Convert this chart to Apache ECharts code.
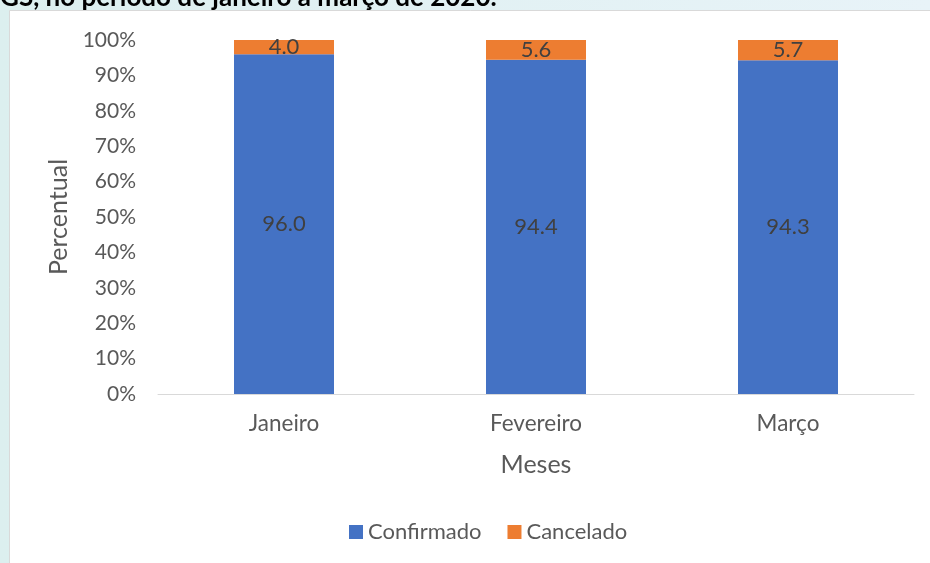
<!DOCTYPE html>
<html>
<head>
<meta charset="utf-8">
<script src="https://cdn.jsdelivr.net/npm/echarts@6/dist/echarts.min.js"></script>
<style>
html,body{margin:0;padding:0;}
#c{width:930px;height:563px;}
</style>
</head>
<body>
<div id="c"></div>
<script>
const categories = ['Janeiro', 'Fevereiro', 'Março'];
const confirmado = [96.0, 94.4, 94.3];
const cancelado = [4.0, 5.6, 5.7];
const yTicks = [0, 10, 20, 30, 40, 50, 60, 70, 80, 90, 100];

const FONT = 'Lato';
const chart = echarts.init(document.getElementById('c'));
chart.setOption({
  backgroundColor: {
    type: 'linear', x: 0, y: 0, x2: 1, y2: 0,
    colorStops: [{offset: 0, color: '#dcefef'}, {offset: 1, color: '#e8f3f8'}]
  },
  textStyle: {fontFamily: FONT},
  graphic: [
    {type: 'rect', z: -10, shape: {x: 9.5, y: 10.5, width: 940, height: 600},
     style: {fill: '#ffffff', stroke: '#d9d9d9', lineWidth: 1}},
    {type: 'text', left: 0, top: -15, z: -20,
     style: {text: 'GS, no período de janeiro a março de 2020.', fill: '#000', font: 'bold 26px Lato'}}
  ],
  grid: {left: 158, right: 16, top: 40, bottom: 169},
  legend: {
    bottom: 15, left: 344, itemWidth: 14, itemHeight: 14, itemGap: 26,
    icon: 'rect',
    textStyle: {fontSize: 22, color: '#595959', fontFamily: FONT},
    data: ['Confirmado', 'Cancelado']
  },
  xAxis: {
    type: 'category', data: categories,
    name: 'Meses', nameLocation: 'middle', nameGap: 58,
    nameTextStyle: {fontSize: 25, color: '#595959', fontFamily: FONT},
    axisLine: {lineStyle: {color: '#d9d9d9', width: 1}},
    axisTick: {show: false},
    axisLabel: {fontSize: 22.5, color: '#595959', margin: 18, fontFamily: FONT}
  },
  yAxis: {
    type: 'value', min: 0, max: 100, interval: 10,
    name: 'Percentual', nameLocation: 'middle', nameGap: 84, nameRotate: 90,
    nameTextStyle: {fontSize: 25, color: '#595959', fontFamily: FONT},
    axisLine: {show: false}, axisTick: {show: false},
    splitLine: {show: false},
    axisLabel: {fontSize: 21, color: '#595959', margin: 22, fontFamily: FONT,
      formatter: v => yTicks.includes(v) ? v + '%' : ''}
  },
  series: [
    {name: 'Confirmado', type: 'bar', stack: 'total', data: confirmado, barWidth: 100,
     itemStyle: {color: '#4472c4'},
     label: {show: true, position: 'inside', fontSize: 22, color: '#404040', fontFamily: FONT,
       formatter: p => p.value.toFixed(1)}},
    {name: 'Cancelado', type: 'bar', stack: 'total', data: cancelado, barWidth: 100,
     itemStyle: {color: '#ed7d31'},
     label: {show: true, position: 'inside', fontSize: 22, color: '#404040', fontFamily: FONT,
       formatter: p => p.value.toFixed(1)}}
  ]
});
</script>
</body>
</html>
